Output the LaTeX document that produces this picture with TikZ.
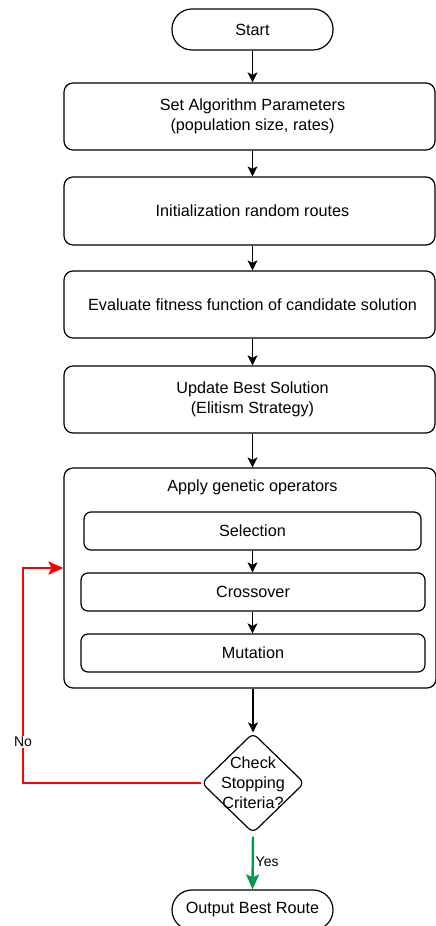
\documentclass[tikz,border=0pt]{standalone}
\usepackage{fontspec}
\setmainfont{Liberation Sans}
\usetikzlibrary{arrows.meta,shapes.geometric,calc}
\definecolor{yesgreen}{HTML}{00994D}
\definecolor{nored}{HTML}{FF0000}
\begin{document}
\begin{tikzpicture}[x=1pt,y=1pt,
  txt/.style={font=\fontsize{16.2}{20}\selectfont, align=center},
  stadium/.style={draw, line width=1.2pt, rounded corners=20pt, minimum width=161pt, minimum height=41pt, inner sep=0pt, txt},
  stepbox/.style={draw, line width=1.2pt, rounded corners=9pt, minimum width=371pt, inner sep=0pt, txt},
  opbox/.style={draw, line width=1.2pt, rounded corners=7pt, minimum height=38pt, inner sep=0pt, txt},
  decide/.style={draw, shape=diamond, line width=1.2pt, rounded corners=6pt, minimum width=103pt, minimum height=100pt, inner sep=0pt},
  arr/.style={line width=1.3pt, -{Stealth[length=10pt,width=10pt,inset=2.5pt]}},
  carr/.style={line width=2.4pt, -{Stealth[length=15pt,width=13pt,inset=3pt]}},
  lbl/.style={fill=white, inner sep=1pt, font=\fontsize{14}{16}\selectfont}
]
\useasboundingbox (0,0) rectangle (436,926);

\node[stadium] (start) at (252.5,896.5) {Start};
\node[stepbox, minimum height=67pt] (b1) at (249.5,809.5) {};
\node[txt] (b1t) at (252.5,809.5) {Set Algorithm Parameters\\(population size, rates)};
\node[stepbox, minimum height=68pt] (b2) at (249.5,715) {};
\node[txt] (b2t) at (252.5,715) {Initialization random routes};
\node[stepbox, minimum height=67pt] (b3) at (249.5,621.5) {};
\node[txt] (b3t) at (252.5,621.5) {Evaluate fitness function of candidate solution};
\node[stepbox, minimum height=67pt] (b4) at (249.5,526.5) {};
\node[txt] (b4t) at (252.5,526.5) {Update Best Solution\\(Elitism Strategy)};

\node[stepbox, minimum width=372pt, minimum height=220pt] (grp) at (250,348) {};
\node[txt] (grptitle) at (252.5,439) {Apply genetic operators};
\node[opbox, minimum width=337pt] (sel) at (252.5,395) {Selection};
\node[opbox, minimum width=344pt] (cro) at (253,334) {Crossover};
\node[opbox, minimum width=344pt] (mut) at (253,273) {Mutation};

\node[decide] (chk) at (253,143) {};
\node[txt] (chktext) at (chk.center) {Check\\Stopping\\Criteria?};

\node[stadium, minimum height=40pt] (out) at (252.5,16) {Output Best Route};

\draw[arr] (start.south) -- (start.south |- b1.north);
\draw[arr] (start.south |- b1.south) -- (start.south |- b2.north);
\draw[arr] (start.south |- b2.south) -- (start.south |- b3.north);
\draw[arr] (start.south |- b3.south) -- (start.south |- b4.north);
\draw[arr] (start.south |- b4.south) -- (start.south |- grp.north);
\draw[arr] (sel.south) -- (sel.south |- cro.north);
\draw[arr] (sel.south |- cro.south) -- (sel.south |- mut.north);
\draw[arr] (chk.north |- grp.south) -- (chk.north);

\draw[carr, yesgreen, shorten <=3pt] (chk.south) -- (out.north);
\node[lbl, anchor=west] (yes) at (254.5,64) {Yes};

\coordinate (loop) at (23,358);
\draw[carr, nored, line width=2.2pt] (chk.west) -| (loop) -- (grp.west |- loop);
\node[lbl] (no) at (23,184) {No};
\end{tikzpicture}
\end{document}
